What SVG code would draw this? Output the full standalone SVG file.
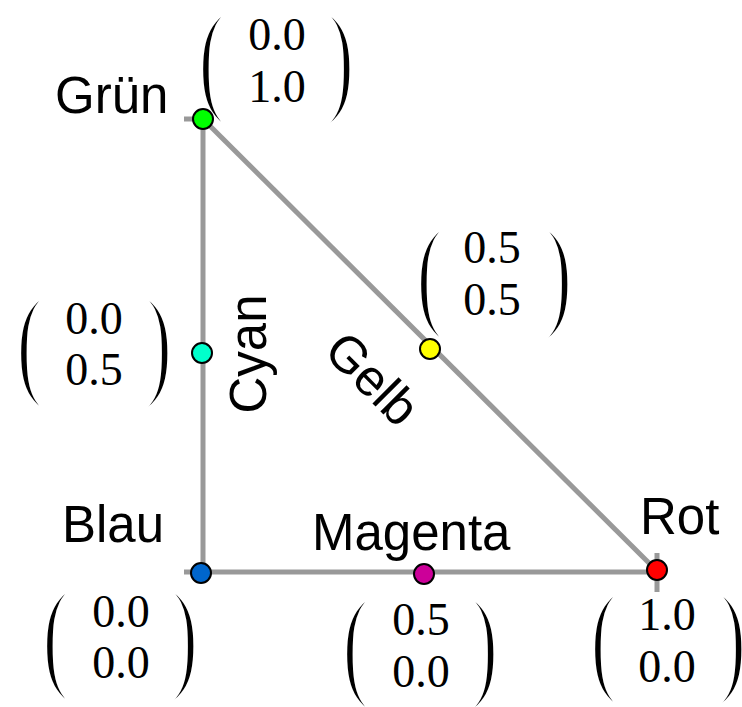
<svg xmlns="http://www.w3.org/2000/svg" xmlns:xlink="http://www.w3.org/1999/xlink" width="742" height="707" viewBox="0 0 742 707">
<style>
.edge{fill:none;stroke:#999999;stroke-width:5;stroke-linecap:butt}
.pt{stroke:#000;stroke-width:2}
.lbl{font-family:"Liberation Sans",Arial,sans-serif;font-size:51px;fill:#000}
.num{font-family:"Liberation Serif","Times New Roman",serif;font-size:46px;fill:#000;text-anchor:middle}
.par{font-family:"Liberation Serif","Times New Roman",serif;font-size:132px;fill:#000;stroke:#ffffff;stroke-width:5}
</style>
<defs>
<g id="parens">
<text class="par" transform="translate(-5,89) scale(0.74,1)">(</text>
<text class="par" transform="translate(121,89) scale(0.74,1)">)</text>
</g>
</defs>
<rect width="742" height="707" fill="#ffffff"/>
<g id="matrices">
<g id="m-gruen" transform="translate(202,12)">
<use xlink:href="#parens"/>
<text class="num" x="75" y="38">0.0</text>
<text class="num" x="75" y="90">1.0</text>
</g>
<g id="m-cyan" transform="translate(20,296)">
<use xlink:href="#parens"/>
<text class="num" x="74" y="38">0.0</text>
<text class="num" x="74" y="89">0.5</text>
</g>
<g id="m-gelb" transform="translate(420,227)">
<use xlink:href="#parens"/>
<text class="num" x="72" y="36">0.5</text>
<text class="num" x="72" y="88">0.5</text>
</g>
<g id="m-blau" transform="translate(46,589)">
<use xlink:href="#parens"/>
<text class="num" x="75" y="38">0.0</text>
<text class="num" x="75" y="89">0.0</text>
</g>
<g id="m-magenta" transform="translate(346,597)">
<use xlink:href="#parens"/>
<text class="num" x="75" y="38">0.5</text>
<text class="num" x="75" y="90">0.0</text>
</g>
<g id="m-rot" transform="translate(594,592)">
<use xlink:href="#parens"/>
<text class="num" x="73" y="38">1.0</text>
<text class="num" x="73" y="90">0.0</text>
</g>
</g>
<g id="connectors">
<path class="edge" d="M184,119 H203 V572"/>
<path class="edge" d="M184,572 H657"/>
<path class="edge" d="M203,119 L657,571"/>
<path class="edge" d="M657,553 V592"/>
</g>
<g id="gruen">
<circle class="pt" cx="203" cy="119" r="10" fill="#00ff00"/>
<text class="lbl" x="55" y="113">Grün</text>
</g>
<g id="cyan">
<circle class="pt" cx="202" cy="353" r="10" fill="#00ffcc"/>
<text class="lbl" text-anchor="middle" transform="translate(266,354) rotate(-90)">Cyan</text>
</g>
<g id="gelb">
<circle class="pt" cx="430" cy="349" r="10" fill="#ffff00"/>
<text class="lbl" text-anchor="middle" transform="translate(360,391) rotate(45)">Gelb</text>
</g>
<g id="blau">
<circle class="pt" cx="201" cy="573" r="10" fill="#0066cc"/>
<text class="lbl" x="62" y="542">Blau</text>
</g>
<g id="magenta">
<circle class="pt" cx="424" cy="574" r="10" fill="#cc0099"/>
<text class="lbl" x="312" y="550">Magenta</text>
</g>
<g id="rot">
<circle class="pt" cx="657" cy="570" r="10" fill="#ff0000"/>
<text class="lbl" x="640" y="534">Rot</text>
</g>
</svg>
